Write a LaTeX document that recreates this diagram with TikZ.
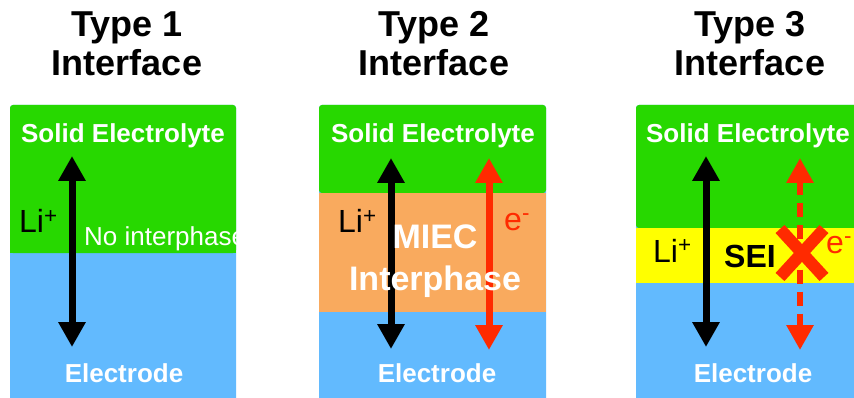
\documentclass[tikz,border=0pt]{standalone}
\usepackage{fontspec}
\setmainfont{Liberation Sans}
\usetikzlibrary{arrows.meta}
\definecolor{elyte}{RGB}{39,216,0}
\definecolor{electrode}{RGB}{98,186,254}
\definecolor{miec}{RGB}{249,170,94}
\definecolor{sei}{RGB}{255,255,0}
\definecolor{eflow}{RGB}{255,42,0}
\newcommand{\fsz}[2]{\fontsize{#1}{#2}\selectfont}

\begin{document}
\begin{tikzpicture}[x=1pt,y=-1pt,
	every node/.style={inner sep=0pt},
	title/.style={font=\bfseries\fsz{36}{39}, align=center, anchor=base},
	layer/.style={font=\bfseries\fsz{26}{26}, white, anchor=base},
	ion/.style={font=\fsz{32}{32}, anchor=base west},
	flow/.style={line width=7pt, {Triangle[width=26pt,length=25pt]}-{Triangle[width=26pt,length=25pt]}}]
	\useasboundingbox (0,0) rectangle (854,398);
	\clip (0,0) rectangle (854,398);
	\fill[electrode, rounded corners=3pt] (10,105) rectangle (236,410);
	\fill[elyte, rounded corners=3pt] (10,105) rectangle (236,253);
	\fill[elyte] (10,200) rectangle (236,253);
	\fill[electrode, rounded corners=3pt] (319,105) rectangle (546,410);
	\fill[elyte, rounded corners=3pt] (319,105) rectangle (546,193);
	\fill[miec] (319,193) rectangle (546,312);
	\fill[electrode, rounded corners=3pt] (636,105) rectangle (870,410);
	\fill[elyte, rounded corners=3pt] (636,105) rectangle (870,228);
	\fill[sei] (636,228) rectangle (870,283);
	\foreach \n/\x in {1/127,2/434,3/750} {
		\node[title] (title\n) at (\x,76) {Type \n\\Interface};
	}
	\foreach \n/\x/\xe in {1/123/124,2/433/437,3/748/753} {
		\node[layer] (elyte\n) at (\x,143) {Solid Electrolyte};
		\node[layer] (electrode\n) at (\xe,382) {Electrode};
	}
	\foreach \n/\x/\ya/\yb in {1/72/156/347,2/391/158/349,3/706/156/347} {
		\coordinate (li\n top) at (\x,\ya);
		\coordinate (li\n bot) at (\x,\yb);
		\draw[flow] (li\n top) -- (li\n bot);
	}
	\coordinate (e2top) at (489,158);
	\coordinate (e2bot) at (489,350);
	\coordinate (e3top) at (800,158);
	\coordinate (e3bot) at (800,350);
	\draw[flow, eflow] (e2top) -- (e2bot);
	\draw[flow, eflow, line width=6pt, dash pattern=on 14pt off 8pt] (e3top) -- (e3bot);
	\draw[eflow, line width=12pt] (780,229) -- (824,277) (780,277) -- (824,229);
	\node[ion] (li1) at (19,233) {Li\textsuperscript{+}};
	\node[ion] (li2) at (338,233) {Li\textsuperscript{+}};
	\node[ion] (li3) at (653,262) {Li\textsuperscript{+}};
	\node[ion, eflow] (e2) at (504,230) {e\textsuperscript{-}};
	\node[ion, eflow] (e3) at (826,253) {e\textsuperscript{-}};
	\begin{scope}
		\clip (10,105) rectangle (236,400);
		\node[white, font=\fsz{26}{26}, anchor=base west] (nointer) at (84,245) {No interphase};
	\end{scope}
	\node[white, font=\bfseries\fsz{34}{42}, align=center, anchor=base] (miec) at (435,290) {MIEC\\Interphase};
	\node[font=\bfseries\fsz{32}{32}, anchor=base] (sei) at (750,267) {SEI};
\end{tikzpicture}
\end{document}
